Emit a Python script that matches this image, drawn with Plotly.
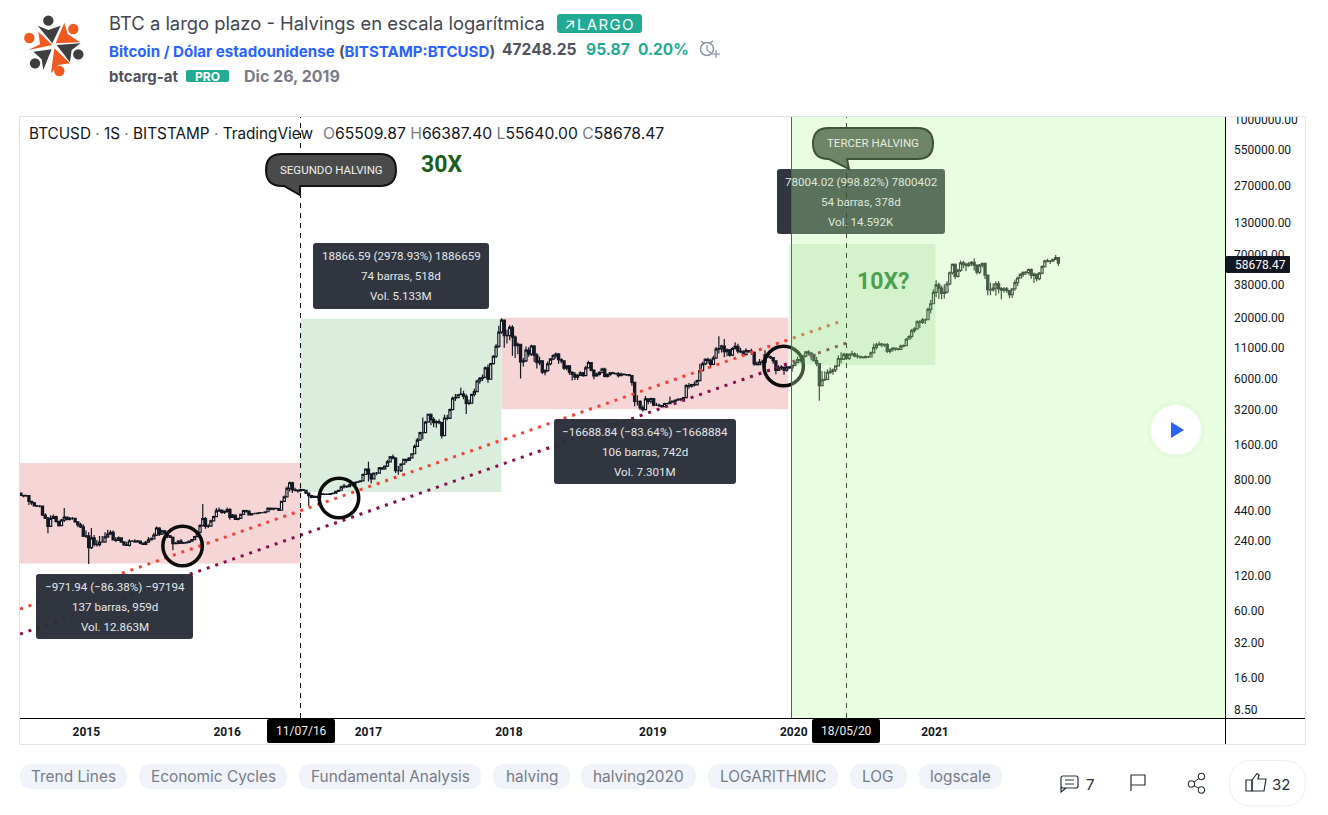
import pandas as pd
import plotly.graph_objects as go

# ---------- data (weekly bars) ----------
close_2014 = [592,585,590,525,510,480,478,478,400,377,320,375,388,353,325,363,385,368,375,375,350,330,317]
high_2014 = [625,600,600,590,530,520,490,490,480,415,385,400,405,395,360,370,460,390,385,385,380,355,345]
low_2014 = [585,570,575,490,490,475,470,465,395,370,280,320,370,345,320,325,350,360,360,365,345,315,310]

close_2015 = [264,265,210,255,225,223,235,235,260,275,285,245,243,255,235,222,220,240,240,236,240,230,224,234,245,250,270,310,275,293,281,265,258,228,229,240,230,231,233,239,247,262,285,325,373,320,322,357,388,435,442,422]
high_2015 = [335,295,285,310,270,245,265,265,285,300,297,295,260,262,258,240,236,248,245,248,245,240,232,240,260,258,282,320,315,300,298,285,270,262,235,243,250,235,238,240,250,265,290,335,500,385,335,365,395,462,465,442]
low_2015 = [260,255,152,205,215,215,215,232,235,255,280,242,235,240,232,218,218,215,235,232,235,225,222,224,232,243,250,265,265,270,275,255,255,200,225,225,226,226,228,232,240,244,260,280,320,305,310,320,355,385,425,412]

close_2016 = [431,447,383,400,368,376,406,438,433,403,412,412,416,420,420,428,459,450,458,456,441,526,574,680,760,660,658,648,665,655,620,590,568,580,570,610,605,608,605,612,618,640,655,700,710,705,730,735,765,775,790,895]
high_2016 = [438,465,462,410,405,380,410,445,445,440,418,420,422,425,425,430,468,465,462,460,445,530,590,705,780,775,690,665,678,665,660,625,600,590,585,612,615,612,610,618,625,645,660,715,745,715,745,740,770,780,798,915]
low_2016 = [410,420,365,380,365,362,370,405,420,400,402,408,410,412,415,418,428,440,440,450,435,442,525,570,640,620,640,625,645,645,608,480,560,565,565,570,600,602,600,600,608,615,632,655,680,685,695,720,730,760,772,785]

close_2017 = [995,905,820,920,920,1020,1000,1055,1150,1270,1240,965,965,1100,1210,1185,1245,1350,1560,1770,2050,2050,2520,2950,2650,2500,2550,2500,1930,2730,2720,3230,4050,4100,4340,4400,4200,3660,3680,4380,4610,5700,6000,6130,7400,5900,8050,9300,11300,15000,19000,14000,14000]
high_2017 = [1005,1150,915,925,940,1040,1040,1060,1190,1290,1330,1260,1060,1120,1220,1210,1250,1360,1620,1840,2090,2770,2580,2980,2990,2780,2620,2670,2440,2920,2920,3300,4200,4400,4400,4980,4700,4390,3950,4380,4900,5850,6180,6470,7600,7900,8110,9500,11800,17000,19700,17600,15800]
low_2017 = [890,780,750,810,880,915,980,985,1040,1150,1210,920,890,940,1090,1130,1180,1240,1340,1550,1760,1800,2040,2520,2370,2280,2260,2420,1830,1930,2620,2680,3220,3830,4050,4300,3970,2970,3550,3650,4200,4570,5400,5700,6100,5500,5850,7900,9000,11000,14500,11000,12000]

close_2018 = [16500,13600,11500,11800,8300,8500,10500,9700,11400,9500,8200,8500,6800,7000,8000,8800,9400,9700,8700,8500,7350,7700,6780,6500,6150,6370,6700,6350,7400,8200,7040,6300,6490,6730,7200,6250,6500,6700,6630,6570,6340,6540,6460,6480,6350,5550,3800,3800,3350,3230,4000,3800]
high_2018 = [17200,17200,14000,12200,11800,9000,11300,11100,11700,11600,9900,9200,8500,7200,8400,9000,9700,10000,9900,8950,8600,7800,7760,6900,6800,6500,6900,6800,7700,8500,8200,7200,6700,6900,7400,7400,6600,6800,6850,6700,6800,6700,6550,6550,6520,5700,4800,4300,3900,3500,4240,4000]
low_2018 = [12800,9400,9000,9700,6000,7600,8300,9200,9350,8300,7300,7800,6550,6400,6850,7800,8600,8900,8000,8100,7100,7000,6450,5750,5800,5800,6300,6200,6300,7300,6900,5900,6200,6350,6700,6100,6100,6250,6500,6500,6100,6300,6350,6300,6260,5200,3450,3500,3200,3120,3200,3600]

close_2019 = [4030,3530,3530,3510,3430,3650,3640,3750,3820,3900,3990,3970,4100,5200,5150,5300,5280,5750,7000,8000,8750,8560,7920,8980,10700,10800,11400,10200,10580,9500,10800,11300,10300,10140,9600,10400,10300,10030,8000,7870,8300,8220,9550,9200,9050,8500,7040,7400,7510,7080,7510,7380]
high_2019 = [4100,4070,3700,3650,3520,3700,3700,4200,3860,3950,4030,4070,4130,5350,5470,5400,5650,5850,8000,8350,8950,9050,8850,9400,11200,13800,11700,13100,10850,10700,11100,12300,11900,11000,10500,10900,10450,10800,10200,8400,8800,8700,10500,9600,9450,8850,7900,7800,7800,7370,7700,7680]
low_2019 = [3650,3450,3480,3400,3350,3410,3580,3630,3700,3660,3860,3820,3940,4080,4900,5000,5100,5280,5700,7000,7800,8000,7500,7800,8900,9800,10000,9100,9300,9200,9350,10700,9800,9900,9350,9700,9950,9600,7700,7750,7800,7900,7300,9100,8800,8000,6500,7000,7100,6450,6850,7250]

close_2020 = [7750,8190,8700,8600,9330,10150,9900,9660,8530,8040,5200,5820,5880,6770,6900,7120,7700,8900,8730,9670,8900,9700,9760,9330,9300,9120,9070,9250,9170,9930,11060,11670,11850,11650,11700,10250,10680,10920,10770,10670,11380,11500,13030,13750,15480,15970,18400,18180,19150,19170,23500,26300]
high_2020 = [7800,8450,9190,8900,9580,10200,10500,10050,9200,9170,8000,6950,6900,7200,7450,7300,7800,9450,10050,9950,9850,9800,10380,10000,9800,9250,9350,9450,9350,10200,12000,12100,12470,12100,12000,12080,10800,11100,10950,10950,11720,11720,13350,14100,15950,16500,18950,19100,19800,19600,24300,28400]
low_2020 = [6850,7650,8100,8250,8300,9100,9450,8600,8400,7650,3850,5250,5700,5850,6550,6450,6800,7700,8100,8700,8700,8650,9300,9100,8900,8850,8900,9000,9000,9100,9900,10650,11450,11100,11150,9900,9800,10200,10350,10400,10600,11100,11400,13000,13200,14800,15700,16200,17600,17600,19000,21800]

close_2021 = [33000,38200,35800,32250,33100,38900,48600,57400,45200,51000,59000,57300,55800,58100,59800,56200,49100,56600,58300,46400,34700,34600,35800,39000,35500,34500,35300,34200,31500,35400,39900,43800,47000,48900,48800,51800,46000,47300,43200,48200,54900,61500,60900,61300,63300,65500,58678.47]
high_2021 = [34800,41950,40000,37800,38700,41000,49700,58400,58300,52600,61800,61500,59600,60000,61300,64900,57500,57900,59500,59600,45800,39900,39400,41000,41300,36600,36600,36700,32800,35400,42600,44800,48100,49700,50400,52900,52900,48800,45600,49400,56500,62800,64000,62600,63500,69000,66387.4]
low_2021 = [27700,29900,28900,28800,29200,32300,38000,47000,43000,44200,49300,53200,50400,54700,55500,50900,47000,47500,54000,43000,31100,31100,33500,31000,32300,28800,32700,32600,29300,29500,34000,37400,43700,44700,46400,46900,43200,39600,40800,41900,47100,53900,59800,57800,60000,62800,55640]

first_open = 620
last_bar = "2021-11-15"

price_ticks = [1000000,550000,270000,130000,70000,38000,20000,11000,6000,3200,1600,800,440,240,120,60,32,16,8.5]
year_ticks = ["2015-01-06","2016-01-04","2017-01-02","2017-12-30","2019-01-05","2020-01-03","2021-01-01"]
year_labels = ["2015","2016","2017","2018","2019","2020","2021"]

halving_dates = ["2016-07-11", "2020-05-18"]
halving_labels = ["11/07/16", "18/05/20"]

zone_dates = ["2013-11-25","2016-07-11","2017-12-11","2019-12-20","2021-01-02"]
zone_prices = [(1125.2,153.3),(633.3,19500),(19953,3264),(7810,85814)]

trend_red_x = ["2014-07-19","2020-04-28"]
trend_red_y = [62.4,18330]
trend_mag_x = ["2014-07-19","2020-05-18"]
trend_mag_y = [38,12090]

circle_x = ["2015-09-11","2016-10-18","2019-12-08"]
circle_y = [217,562,7674]

view_start, view_end = "2014-07-19", "2023-01-18 10:00"
green_start = "2019-12-28 07:00"

tags = ["Trend Lines","Economic Cycles","Fundamental Analysis","halving","halving2020","LOGARITHMIC","LOG","logscale"]
tag_edges = [(20,127),(139,287),(299,481),(493,570),(581,696),(708,838),(850,907),(919,1002)]

# ---------- build ----------
closes = close_2014+close_2015+close_2016+close_2017+close_2018+close_2019+close_2020+close_2021
highs = high_2014+high_2015+high_2016+high_2017+high_2018+high_2019+high_2020+high_2021
lows = low_2014+low_2015+low_2016+low_2017+low_2018+low_2019+low_2020+low_2021
opens = [first_open]+closes[:-1]
dates = pd.date_range(end=last_bar, periods=len(closes), freq="7D")

W, H = 1328, 815
PL, PR, PT, PB = 20, 1225, 117, 718
CHART_FONT = "Roboto, sans-serif"
UI_FONT = "Inter, sans-serif"
px = lambda x: x/W
py = lambda y: 1-y/H

def rr(x0,y0,x1,y1,r):
    X0,X1,Y0,Y1=x0,x1,y0,y1
    pts=[f"M {px(X0+r)} {py(Y0)}",f"L {px(X1-r)} {py(Y0)}",f"Q {px(X1)} {py(Y0)} {px(X1)} {py(Y0+r)}",
         f"L {px(X1)} {py(Y1-r)}",f"Q {px(X1)} {py(Y1)} {px(X1-r)} {py(Y1)}",f"L {px(X0+r)} {py(Y1)}",
         f"Q {px(X0)} {py(Y1)} {px(X0)} {py(Y1-r)}",f"L {px(X0)} {py(Y0+r)}",f"Q {px(X0)} {py(Y0)} {px(X0+r)} {py(Y0)}","Z"]
    return " ".join(pts)

def poly(points, close=True):
    s=" ".join(("M" if i==0 else "L")+f" {px(a)} {py(b)}" for i,(a,b) in enumerate(points))
    return s+(" Z" if close else "")

shapes=[]; ann=[]
def path(d,fill="rgba(0,0,0,0)",line="rgba(0,0,0,0)",w=1,layer="above"):
    shapes.append(dict(type="path",xref="paper",yref="paper",path=d,fillcolor=fill,line=dict(color=line,width=w),layer=layer))
def circle(cx,cy,r,fill="rgba(0,0,0,0)",line="rgba(0,0,0,0)",w=1):
    shapes.append(dict(type="circle",xref="paper",yref="paper",x0=px(cx-r),x1=px(cx+r),y0=py(cy-r),y1=py(cy+r),fillcolor=fill,line=dict(color=line,width=w),layer="above"))
def txt(x,y,t,size,color,anchor="left",font=UI_FONT):
    ann.append(dict(xref="paper",yref="paper",x=px(x),y=py(y),text=t,showarrow=False,xanchor=anchor,yanchor="middle",
                    borderpad=0,borderwidth=0,font=dict(size=size,color=color,family=font)))

# zones under the candles
for i,(a,b) in enumerate(zone_prices[:3]):
    shapes.append(dict(type="rect",xref="x",yref="y",x0=zone_dates[i],x1=zone_dates[i+1],y0=a,y1=b,
                       fillcolor="#dbeedd" if i==1 else "#f5d5d5",line=dict(width=0),layer="below"))

# tooltip boxes
boxes=[(36,574,193,639,"−971.94 (−86.38%) −97194","137 barras, 959d","Vol. 12.863M"),
       (313,243,489,309,"18866.59 (2978.93%) 1886659","74 barras, 518d","Vol. 5.133M"),
       (554,419,736,484,"−16688.84 (−83.64%) −1668884","106 barras, 742d","Vol. 7.301M"),
       (777,169,945,234,"78004.02 (998.82%) 7800402","54 barras, 378d","Vol. 14.592K")]
for b in boxes:
    path(rr(b[0],b[1],b[2],b[3],3),fill="rgba(42,46,57,0.97)")

# halving lines
for d in halving_dates:
    shapes.append(dict(type="line",xref="x",yref="paper",x0=d,x1=d,y0=py(PB),y1=py(PT),line=dict(color="#000",width=1,dash="5px,5px"),layer="above"))

def pill(x0,y0,x1,y1,tx0,tip,tx1,fill,line):
    r=(y1-y0)/2
    d=(f"M {px(x0+r)} {py(y0)} L {px(x1-r)} {py(y0)} Q {px(x1)} {py(y0)} {px(x1)} {py(y0+r)} Q {px(x1)} {py(y1)} {px(x1-r)} {py(y1)} "
       f"L {px(tx1)} {py(y1)} L {px(tip[0])} {py(tip[1])} L {px(tx0)} {py(y1)} L {px(x0+r)} {py(y1)} "
       f"Q {px(x0)} {py(y1)} {px(x0)} {py(y0+r)} Q {px(x0)} {py(y0)} {px(x0+r)} {py(y0)} Z")
    path(d,fill=fill,line=line,w=2)
pill(266,154,396,186,284,(300,195),300,"#4a4a4a","#111111")

# green pane above everything it dims
shapes.append(dict(type="rect",xref="x",yref="paper",x0=green_start,x1=view_end,y0=py(PB),y1=py(PT),
                   fillcolor="rgba(184,248,155,0.31)",line=dict(width=0),layer="above"))
shapes.append(dict(type="line",xref="x",yref="paper",x0=green_start,x1=green_start,y0=py(PB),y1=py(PT),line=dict(color="#2e7d32",width=1),layer="above"))
shapes.append(dict(type="rect",xref="x",yref="y",x0=zone_dates[3],x1=zone_dates[4],y0=zone_prices[3][0],y1=zone_prices[3][1],
                   fillcolor="rgba(76,175,80,0.13)",line=dict(width=0),layer="above"))
pill(813,128,933,159,829,(849,169),847,"#6f8568","#3c5538")

# frame and axes
shapes.append(dict(type="rect",xref="paper",yref="paper",x0=px(1226),x1=px(1304),y0=py(116),y1=py(100),fillcolor="#fff",line=dict(width=0),layer="above"))
shapes.append(dict(type="rect",xref="paper",yref="paper",x0=px(19.5),x1=px(1305.5),y0=py(744.5),y1=py(116.5),fillcolor="rgba(0,0,0,0)",line=dict(color="#e0e3eb",width=1),layer="above"))
path(poly([(1225.5,117),(1225.5,744)],False),line="#000")
path(poly([(20,718.5),(1305,718.5)],False),line="#000")

# price tag & date tags
path(rr(1226,256,1290,273,1),fill="#131722")
txt(1235,264.5,"58678.47",12,"#ffffff","left",CHART_FONT)
for x0,x1,t in [(267,335,halving_labels[0]),(812,880,halving_labels[1])]:
    path(rr(x0,719,x1,743,2),fill="#000")
    txt((x0+x1)/2,731,t,12,"#f0f0f0","center",CHART_FONT)

# tooltip text
for b in boxes:
    c="#e4e6ea" if b[0]<700 else "#dfe8dd"
    for k,off in enumerate((13,33,53)):
        txt((b[0]+b[2])/2,b[1]+off,b[4+k],11.6,c,"center",CHART_FONT)

txt(331,169.5,"SEGUNDO HALVING",11.5,"#f0f0f0","center",CHART_FONT)
txt(873,143,"TERCER HALVING",11.5,"#e6ecdf","center",CHART_FONT)
txt(441,165,"<b>30X</b>",23,"#1b5e20","center",CHART_FONT)
txt(883,281,"<b>10X?</b>",23,"#4e9f50","center",CHART_FONT)

# chart header
G='#787b86'
txt(29,133.5,f"BTCUSD <span style='color:{G}'>·</span> 1S <span style='color:{G}'>·</span> BITSTAMP <span style='color:{G}'>·</span> TradingView",15.3,"#131722")
txt(323,133.5,f"<span style='color:{G}'>O</span>65509.87 <span style='color:{G}'>H</span>66387.40 <span style='color:{G}'>L</span>55640.00 <span style='color:{G}'>C</span>58678.47",15.7,"#131722")

# page header
txt(109,23,"BTC a largo plazo - Halvings en escala logarítmica",18.4,"#434651")
path(rr(557,14,642,33,3),fill="#22ab94")
txt(564,24,"↗\u200aL\u200aA\u200aR\u200aG\u200aO",15,"#ffffff")
B="#2962ff"
txt(109,51.5,f"<b>Bitcoin / Dólar estadounidense</b> <b style='color:#50535e'>(</b><b>BITSTAMP:BTCUSD</b><b style='color:#50535e'>)</b>",15.1,B)
txt(502,50,"<b>47248.25</b>",15.6,"#50535e")
txt(586,50,"<b>95.87</b>",15.6,"#22ab94")
txt(638,50,"<b>0.20%</b>",15.4,"#22ab94")
txt(109,76,"<b>btcarg-at</b>",15,"#50535e")
path(rr(186,70,229,82,2),fill="#22ab94")
txt(207.5,76,"<b>PRO</b>",12,"#ffffff","center")
txt(244,76,"<b>Dic 26, 2019</b>",16,"#787b86")

# logo
ox,oy=15,10
lg=lambda pts:[(ox+a/3,oy+b/3) for a,b in pts]
DK,OR="#3e3e40","#f15a1f"
for (a,b,c) in [(100,32,DK),(175,57,OR),(190,133,DK),(133,183,OR),(60,160,DK),(43,84,OR)]:
    circle(ox+a/3,oy+b/3,5.2,fill=c)
path(poly(lg([(68,47),(100,60),(137,47),(112,100)])),fill=DK)
path(poly(lg([(148,38),(158,72),(195,97),(122,100)])),fill=OR)
path(poly(lg([(197,100),(170,120),(165,157),(125,105)])),fill=DK)
path(poly(lg([(118,115),(165,160),(130,165),(108,190)])),fill=OR)
path(poly(lg([(55,125),(110,118),(85,180),(80,148)])),fill=DK)
path(poly(lg([(40,120),(75,103),(70,65),(112,105)])),fill=OR)

# alarm icon
IC="#8d94a6"
circle(707,49,6.5,line=IC,w=1.5)
path(poly([(707,45),(707,50),(711,53)],False),line=IC,w=1.2)
path(poly([(701,41),(704,43)],False),line=IC,w=1.5)
path(poly([(713,41),(710,43)],False),line=IC,w=1.5)
path(poly([(716,50),(716,58)],False),line=IC,w=1.2)
path(poly([(712,54),(720,54)],False),line=IC,w=1.2)

# play button
circle(1176,430,29,fill="rgba(0,0,0,0.015)")
circle(1176,430,25,fill="#ffffff")
path(poly([(1171,422),(1184,430),(1171,438)]),fill=B)

# tags
for t,(a,b) in zip(tags,tag_edges):
    path(rr(a,764,b,789,12.5),fill="#f0f3fa")
    txt((a+b)/2,776.5,t,15.4,"#787b86","center")

# footer icons
I2="#2a2e39"
path(rr(1061,776,1078,788,2)+" "+poly([(1061,786),(1061,792),(1066,788)],False),line=I2,w=1.2)
path(poly([(1065,780),(1074,780)],False),line=I2)
path(poly([(1065,784),(1074,784)],False),line=I2)
txt(1086,784,"7",15,"#2a2e39")
path(poly([(1131,791),(1131,775),(1145,775),(1145,785),(1131,785)],False),line=I2,w=1.2)
for a,b in [(1201.5,776.5),(1191.5,784),(1201.5,790)]:
    circle(a,b,3.2,line=I2,w=1.1)
path(poly([(1198.8,778.5),(1194.2,782)],False),line=I2)
path(poly([(1198.8,788),(1194.2,786)],False),line=I2)
path(rr(1229.5,760.5,1305.5,806,23),fill="#ffffff",line="#eceef3")
path(poly([(1246,780),(1252,780),(1252,791),(1246,791)]),line=I2,w=1.2)
path(poly([(1252,780),(1257,773.5),(1259,775),(1258,779),(1266,779),(1264,791),(1252,791)]),line=I2,w=1.2)
txt(1272,784,"32",15,"#2a2e39")

fig=go.Figure()

# weekly candles as precomputed boxes, so that their body width can follow the reference
BODY_WIDTH_MS = 5.5*86400000
for is_up,fill in ((True,"#ffffff"),(False,"#131722")):
    idx=[i for i in range(len(closes)) if (closes[i]>=opens[i])==is_up]
    top=[max(opens[i],closes[i]) for i in idx]
    bot=[min(opens[i],closes[i]) for i in idx]
    fig.add_trace(go.Box(x=[dates[i] for i in idx],q1=bot,q3=top,median=[closes[i] for i in idx],
        lowerfence=[min(lows[i],bot[n]) for n,i in enumerate(idx)],upperfence=[max(highs[i],top[n]) for n,i in enumerate(idx)],
        width=BODY_WIDTH_MS,whiskerwidth=0,boxpoints=False,fillcolor=fill,line=dict(color="#131722",width=1.2),
        showlegend=False,hoverinfo="skip"))
fig.add_trace(go.Scatter(x=trend_red_x,y=trend_red_y,mode="lines",line=dict(color="#f44336",width=3,dash="3px,6px"),showlegend=False,hoverinfo="skip"))
fig.add_trace(go.Scatter(x=trend_mag_x,y=trend_mag_y,mode="lines",line=dict(color="#880e4f",width=3,dash="3px,6px"),showlegend=False,hoverinfo="skip"))
fig.add_trace(go.Scatter(x=circle_x,y=circle_y,mode="markers",marker=dict(symbol="circle-open",size=39.5,color="#0c0c0c",line=dict(width=3.5,color="#0c0c0c")),showlegend=False,hoverinfo="skip"))

fig.update_layout(width=W,height=H,margin=dict(l=0,r=0,t=0,b=0),autosize=False,paper_bgcolor="#fff",plot_bgcolor="#fff",
    shapes=shapes,annotations=ann,showlegend=False,hovermode=False,
    xaxis=dict(domain=[px(PL),px(PR)],type="date",range=[view_start,view_end],rangeslider=dict(visible=False),showgrid=False,zeroline=False,automargin=False,
               tickmode="array",tickvals=year_ticks,ticktext=year_labels,ticks="outside",ticklen=3,tickcolor="rgba(0,0,0,0)",
               tickfont=dict(family=CHART_FONT,size=12,color="#131722",weight=700),showline=False),
    yaxis=dict(domain=[py(PB),py(PT)],type="log",range=[0.8581,6.0258],side="right",showgrid=False,zeroline=False,automargin=False,
               tickmode="array",tickvals=price_ticks,ticktext=[f"{v:.2f}" for v in price_ticks],ticks="",ticklabelstandoff=8,
               tickfont=dict(family=CHART_FONT,size=12,color="#131722"),showline=False))

fig.write_html("out.html",config=dict(displayModeBar=False),
    post_script="document.body.style.margin='0';document.body.style.overflow='hidden';")
